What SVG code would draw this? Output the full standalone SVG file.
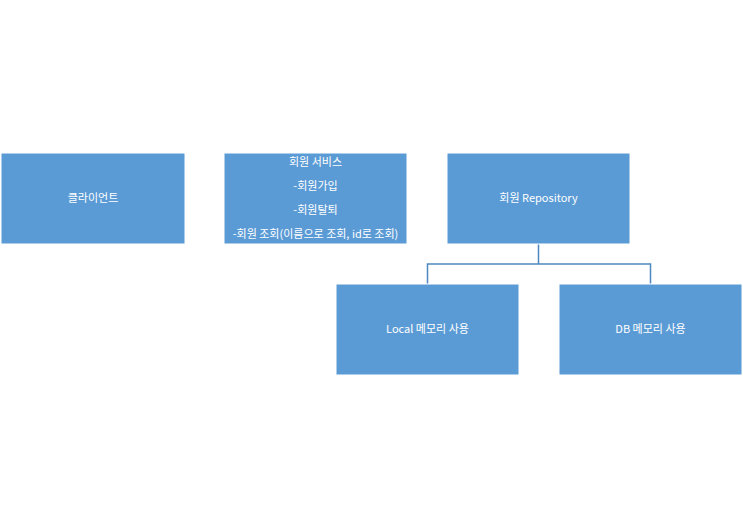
<svg xmlns="http://www.w3.org/2000/svg" width="743" height="529" viewBox="0 0 743 529">
<style>
.b{fill:#5b9bd5;stroke:#ffffff;stroke-width:1}
.t{font-family:"Noto Sans CJK KR","Noto Sans",sans-serif;font-size:11px;fill:#ffffff;text-anchor:middle}
.c{fill:none;stroke:#4e88c0;stroke-width:1.5}
</style>
<rect width="743" height="529" fill="#ffffff"/>
<g id="connectors">
<path class="c" d="M538.5 244V264M427.5 284V264H650.5V284"/>
</g>
<g id="client"><rect class="b" x="1" y="153" width="184" height="91"/><text class="t" x="93" y="202">클라이언트</text></g>
<g id="service"><rect class="b" x="224" y="153" width="183" height="91"/>
<text class="t" x="315.5" y="166">회원 서비스</text>
<text class="t" x="315.5" y="190">-회원가입</text>
<text class="t" x="315.5" y="214">-회원탈퇴</text>
<text class="t" x="315.5" y="238">-회원 조회(이름으로 조회, id로 조회)</text></g>
<g id="repo"><rect class="b" x="447" y="153" width="183" height="91"/><text class="t" x="538.5" y="202">회원 Repository</text></g>
<g id="local"><rect class="b" x="336" y="284" width="183" height="91"/><text class="t" x="427.5" y="333">Local 메모리 사용</text></g>
<g id="db"><rect class="b" x="559" y="284" width="183" height="91"/><text class="t" x="650.5" y="333">DB 메모리 사용</text></g>
</svg>
